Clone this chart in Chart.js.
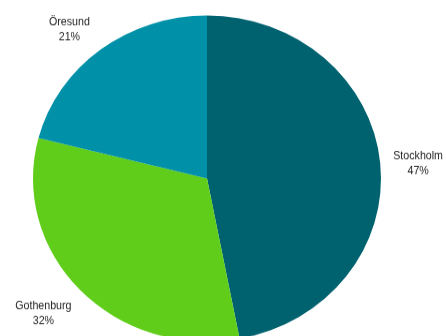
<!DOCTYPE html>
<html>
<head>
<meta charset="utf-8">
<script src="https://cdn.jsdelivr.net/npm/chart.js@4/dist/chart.umd.min.js"></script>
<style>
  html, body { margin: 0; padding: 0; background: #fff; }
  #wrap { width: 446px; height: 336px; overflow: hidden; position: relative; }
  #pie { display: block; transform: scaleY(0.937); transform-origin: 0 0; }
</style>
</head>
<body>
<div id="wrap"><canvas id="pie" width="446" height="380"></canvas></div>
<script>
// Share of holdings by region (%)
const categories = ['Stockholm', 'Gothenburg', 'Öresund'];
const shares = [47, 32, 21];
const sliceColors = ['#00616f', '#5fcd19', '#0091a9'];

// Category name and percentage written outside each slice (condensed type)
const outsideLabels = {
  id: 'outsideLabels',
  afterDatasetsDraw(chart) {
    const ctx = chart.ctx;
    const meta = chart.getDatasetMeta(0);
    const W = chart.width;
    const squeeze = 0.82;
    ctx.save();
    ctx.font = '13px "Liberation Sans", Arial, sans-serif';
    ctx.fillStyle = '#1e1e1e';
    ctx.textAlign = 'center';
    ctx.textBaseline = 'middle';
    const lineH = 16;
    meta.data.forEach((arc, i) => {
      const p = arc.getProps(['x', 'y', 'startAngle', 'endAngle', 'outerRadius'], true);
      const mid = (p.startAngle + p.endAngle) / 2;
      const lines = [categories[i], shares[i] + '%'];
      const hw = squeeze * Math.max(...lines.map(t => ctx.measureText(t).width)) / 2;
      let cx = p.x + Math.cos(mid) * p.outerRadius * 1.29;
      const cy = p.y + Math.sin(mid) * p.outerRadius * 1.18 + 3.5;
      if (cx + hw > W - 3) cx = W - 3 - hw;
      if (cx - hw < 3) cx = 3 + hw;
      lines.forEach((t, k) => {
        ctx.save();
        ctx.translate(cx, cy + (k - (lines.length - 1) / 2) * lineH);
        ctx.scale(squeeze, 1);
        ctx.fillText(t, 0, 0);
        ctx.restore();
      });
    });
    ctx.restore();
  }
};

new Chart(document.getElementById('pie'), {
  type: 'pie',
  data: {
    labels: categories,
    datasets: [{
      data: shares,
      backgroundColor: sliceColors,
      borderWidth: 0
    }]
  },
  options: {
    responsive: false,
    animation: false,
    layout: { padding: { left: 33, right: 65, top: 16.5, bottom: 15.5 } },
    plugins: {
      legend: { display: false },
      tooltip: { enabled: false }
    }
  },
  plugins: [outsideLabels]
});
</script>
</body>
</html>
